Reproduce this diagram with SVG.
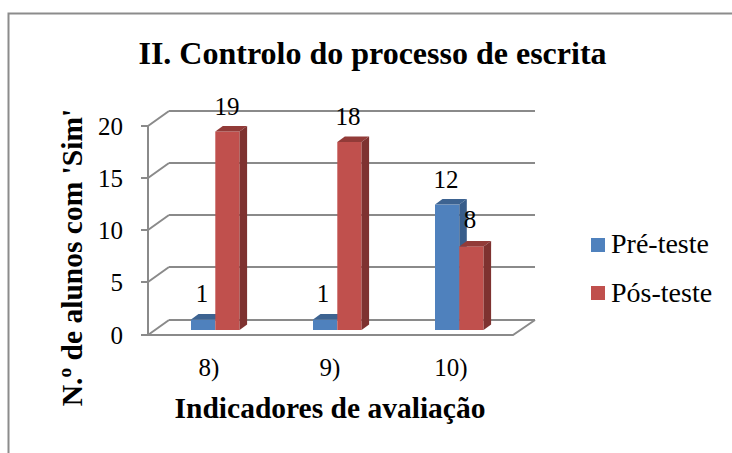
<svg xmlns="http://www.w3.org/2000/svg" width="732" height="453" viewBox="0 0 732 453">
<style>
text{font-family:"Liberation Serif","Times New Roman",serif;fill:#000}
.grid{stroke:#8a8a8a;stroke-width:2;fill:none}
.title{font-size:32px;font-weight:bold}
.axt{font-size:29.5px;font-weight:bold}
.tick{font-size:25px}
.val{font-size:25px;text-anchor:middle}
.leg{font-size:28px}
.bf{fill:#4F81BD}.bt{fill:#3D6391}.bs{fill:#385D8A}
.rf{fill:#C0504D}.rt{fill:#923B38}.rs{fill:#7E3230}
</style>
<rect x="0" y="0" width="732" height="453" fill="#fff"/>
<rect x="8.5" y="13.5" width="740" height="460" fill="none" stroke="#8c8c8c" stroke-width="2"/>
<g id="title"><text class="title" x="372.5" y="63.5" text-anchor="middle">II. Controlo do processo de escrita</text></g>
<g id="axes">
<path class="grid" d="M169,111H535M169,163H535M169,215H535M169,267H535M169,320H535"/>
<path class="grid" d="M148,126L169,111M148,178L169,163M148,230L169,215M148,282L169,267M148,335L169,320"/>
<path class="grid" d="M148,126V335M141,126H148M141,178H148M141,230H148M141,282H148M141,335H148"/>
<path class="grid" d="M148,335H513L535,320"/>
</g>
<g id="ytick" text-anchor="end">
<text class="tick" x="123" y="135">20</text>
<text class="tick" x="123" y="187">15</text>
<text class="tick" x="123" y="239">10</text>
<text class="tick" x="123" y="291">5</text>
<text class="tick" x="123" y="344">0</text>
</g>
<g id="xcat" text-anchor="middle">
<text class="tick" x="209" y="376">8)</text>
<text class="tick" x="330" y="376">9)</text>
<text class="tick" x="451" y="376">10)</text>
</g>
<g id="bars">
<g id="g1">
<rect class="bf" x="191" y="319.5" width="24.3" height="10.5"/>
<polygon class="bt" points="191,319.5 215.3,319.5 222.8,314 198.5,314"/>
<rect class="rf" x="215.3" y="131.5" width="24.3" height="198.5"/>
<polygon class="rt" points="215.3,131.5 239.6,131.5 247.1,126 222.8,126"/>
<polygon class="rs" points="239.6,131.5 247.1,126 247.1,324.5 239.6,330"/>
</g>
<g id="g2">
<rect class="bf" x="313" y="319.5" width="24.3" height="10.5"/>
<polygon class="bt" points="313,319.5 337.3,319.5 344.8,314 320.5,314"/>
<rect class="rf" x="337.3" y="142" width="24.3" height="188"/>
<polygon class="rt" points="337.3,142 361.6,142 369.1,136.5 344.8,136.5"/>
<polygon class="rs" points="361.6,142 369.1,136.5 369.1,324.5 361.6,330"/>
</g>
<g id="g3">
<rect class="bf" x="435" y="204.6" width="24.3" height="125.4"/>
<polygon class="bt" points="435,204.6 459.3,204.6 466.8,199.1 442.5,199.1"/>
<polygon class="bs" points="459.3,204.6 466.8,199.1 466.8,324.5 459.3,330"/>
<rect class="rf" x="459.3" y="246.4" width="24.3" height="83.6"/>
<polygon class="rt" points="459.3,246.4 483.6,246.4 491.1,240.9 466.8,240.9"/>
<polygon class="rs" points="483.6,246.4 491.1,240.9 491.1,324.5 483.6,330"/>
</g>
</g>
<g id="values">
<text class="val" x="202" y="301.5">1</text>
<text class="val" x="227" y="115">19</text>
<text class="val" x="323" y="301.5">1</text>
<text class="val" x="348" y="125">18</text>
<text class="val" x="446" y="188">12</text>
<text class="val" x="470" y="228">8</text>
</g>
<g id="ytitle"><text class="axt" transform="translate(82,257.5) rotate(-90)" text-anchor="middle">N.º de alunos com 'Sim'</text></g>
<g id="xtitle"><text class="axt" x="330" y="418" text-anchor="middle">Indicadores de avaliação</text></g>
<g id="legend">
<rect class="bf" x="591" y="238" width="14" height="14"/>
<text class="leg" x="611" y="253">Pré-teste</text>
<rect class="rf" x="591" y="286" width="14" height="14"/>
<text class="leg" x="611" y="301.5">Pós-teste</text>
</g>
</svg>
